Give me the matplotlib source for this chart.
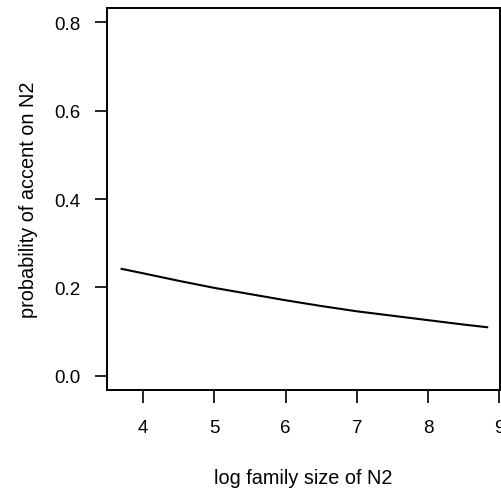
import matplotlib.pyplot as plt

plt.rcParams['font.family'] = ['Liberation Sans', 'DejaVu Sans']

# values
family_size = [3.70, 4.0, 4.5, 5.0, 5.5, 6.0, 6.5, 7.0, 7.5, 8.0, 8.5, 8.83]
prob_accent = [0.242, 0.232, 0.215, 0.199, 0.185, 0.171, 0.158, 0.146, 0.136, 0.126, 0.116, 0.110]

xticks = [4, 5, 6, 7, 8, 9]
yticks = [0.0, 0.2, 0.4, 0.6, 0.8]

fig = plt.figure(figsize=(5.01, 4.89), dpi=100)
ax = fig.add_axes([0.2136, 0.2004, 0.7844, 0.7812])

ax.plot(family_size, prob_accent, color='black', linewidth=1.5)

ax.set_xlim(3.495, 9.01)
ax.set_ylim(-0.032, 0.832)
ax.set_xticks(xticks)
ax.set_xticklabels([str(t) for t in xticks])
ax.set_yticks(yticks)
ax.set_yticklabels(['%.1f' % t for t in yticks])

for s in ax.spines.values():
    s.set_linewidth(1.4)
ax.tick_params(axis='both', length=9, width=1.4, labelsize=13.5, color='#222222')
ax.tick_params(axis='x', pad=12)
ax.tick_params(axis='y', pad=10)

ax.set_xlabel('log family size of N2', fontsize=14.3, labelpad=23)
ax.set_ylabel('probability of accent on N2', fontsize=14.3, labelpad=12)

fig.savefig('out.png', dpi=100)
